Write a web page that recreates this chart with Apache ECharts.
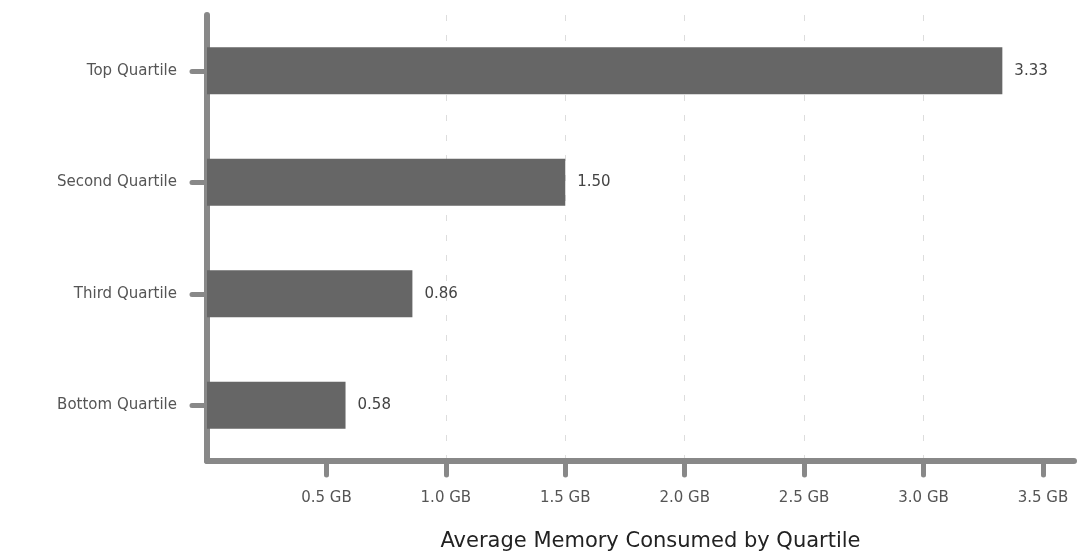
<!DOCTYPE html>
<html>
<head>
<meta charset="utf-8">
<script src="https://cdn.jsdelivr.net/npm/echarts@6/dist/echarts.min.js"></script>
<style>html,body{margin:0;padding:0;background:#fff;}#c{width:1081px;height:556px;}</style>
</head>
<body>
<div id="c"></div>
<script>
const categories = ["Bottom Quartile", "Third Quartile", "Second Quartile", "Top Quartile"];
const values = [0.58, 0.86, 1.50, 3.33];
const tickValues = [0.5, 1.0, 1.5, 2.0, 2.5, 3.0, 3.5];
const axisTitle = "Average Memory Consumed by Quartile";

const chart = echarts.init(document.getElementById('c'), null, {renderer: 'canvas'});
const font = '"DejaVu Sans", sans-serif';
chart.setOption({
  animation: false,
  backgroundColor: '#ffffff',
  grid: {left: 207, right: 7, top: 15, bottom: 95, containLabel: false, outerBoundsMode: 'none'},
  xAxis: {
    type: 'value', min: 0, max: 3.63, interval: 0.5,
    name: axisTitle, nameLocation: 'middle', nameGap: 70,
    nameTextStyle: {fontFamily: font, fontSize: 21, color: '#222', fontWeight: 'normal', padding: [0, 0, 0, 20]},
    axisLine: {show: true, lineStyle: {color: '#888', width: 6, cap: 'round'}},
    axisTick: {show: true, customValues: tickValues, length: 14, lineStyle: {color: '#888', width: 5, cap: 'round'}},
    axisLabel: {customValues: tickValues, margin: 30, fontFamily: font, fontSize: 15, color: '#555',
      formatter: v => v.toFixed(1) + ' GB'},
    splitLine: {show: true, showMinLine: false, showMaxLine: false, lineStyle: {color: '#ddd', type: [6, 14], width: 1}}
  },
  yAxis: {
    type: 'category', data: categories,
    axisLine: {show: true, lineStyle: {color: '#888', width: 6, cap: 'round'}},
    axisTick: {show: true, alignWithLabel: true, length: 15, lineStyle: {color: '#888', width: 5, cap: 'round'}},
    axisLabel: {margin: 30, fontFamily: font, fontSize: 15, color: '#555'},
    splitLine: {show: false}
  },
  series: [{
    type: 'bar', data: values, barWidth: 47,
    itemStyle: {color: '#666666'},
    label: {show: true, position: 'right', distance: 12, fontFamily: font, fontSize: 15, color: '#444',
      formatter: p => p.value.toFixed(2)}
  }]
});
</script>
</body>
</html>
